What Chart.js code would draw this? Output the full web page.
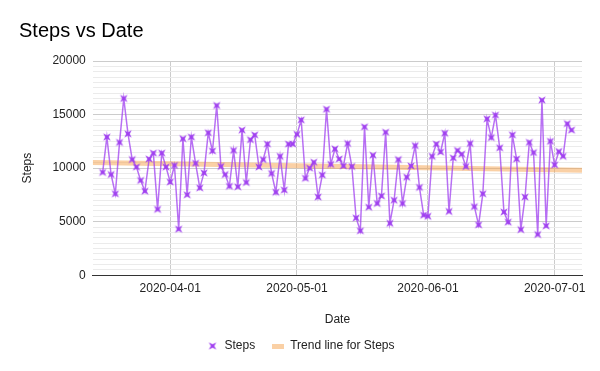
<!DOCTYPE html>
<html><head><meta charset="utf-8">
<script src="https://cdn.jsdelivr.net/npm/chart.js@4/dist/chart.umd.min.js"></script>
<style>html,body{margin:0;padding:0;background:#fff}#wrap{width:600px;height:371px}</style>
</head><body><div id="wrap"><canvas id="c" width="600" height="371"></canvas></div>
<script>
const chartTitle = 'Steps vs Date';
const seriesName = 'Steps';
const trendName = 'Trend line for Steps';
const firstDate = '2020-03-16';
const steps = [
  9600,12900,9400,7600,12400,16500,13200,10800,10100,8850,7850,10850,11400,6150,11400,10100,
  8700,10250,4300,12750,7500,12900,10450,8150,9550,13300,11600,15850,10150,9400,8300,11650,8250,13550,8650,12650,13100,10100,10800,12250,9500,7750,11100,7950,12250,12250,
  13150,14500,9050,10000,10550,7300,9350,15500,10350,11800,10850,10200,12300,10150,5350,4150,13850,6350,11200,6700,7400,13350,4850,7000,10800,6700,9150,10200,12100,8200,5600,
  5500,11100,12250,11500,13250,5950,10950,11650,11300,10150,12300,6400,4700,7600,14600,12850,14950,11900,5900,4950,13100,10850,4250,7300,12400,11450,3800,16350,4600,12500,
  10300,11550,11100,14150,13550
];
const xTickLabels = ['2020-04-01','2020-05-01','2020-06-01','2020-07-01'];
const yMajorTicks = [0,5000,10000,15000,20000];

const DAY = 86400000;
function toUTC(s){const p=s.split('-').map(Number);return Date.UTC(p[0],p[1]-1,p[2]);}
const refDay = toUTC(xTickLabels[0]);
const dayOf = s => Math.round((toUTC(s)-refDay)/DAY);
const startIdx = dayOf(firstDate);
const points = steps.map((v,i)=>({x:startIdx+i, y:v}));
const tickDays = xTickLabels.map(dayOf);
function fmtDay(d){const t=new Date(refDay+d*DAY);return t.toISOString().slice(0,10);}

const xMin = -18.34, xMax = 97.48;
// least-squares trend line from the series
const n = points.length;
const mx = points.reduce((a,p)=>a+p.x,0)/n, my = points.reduce((a,p)=>a+p.y,0)/n;
let sxy=0,sxx=0; points.forEach(p=>{sxy+=(p.x-mx)*(p.y-my);sxx+=(p.x-mx)*(p.x-mx);});
const slope = sxy/sxx, icpt = my - slope*mx;
const trend = [{x:xMin,y:icpt+slope*xMin},{x:xMax,y:icpt+slope*xMax}];

const purple = '#a040f0';
const trendColor = 'rgba(245,162,75,0.5)';
function makeStar(size,color){
  const c=document.createElement('canvas');c.width=c.height=size;
  const g=c.getContext('2d');const r=size/2;
  g.translate(r,r);g.beginPath();
  for(let i=0;i<8;i++){const a=i*Math.PI/4;const rad=(i%2===1)?r-0.3:r*0.32;
    const px=Math.cos(a)*rad,py=Math.sin(a)*rad; if(i===0)g.moveTo(px,py);else g.lineTo(px,py);}
  g.closePath();g.fillStyle=color;g.fill();
  g.strokeStyle='rgba(160,64,240,0.3)';g.lineWidth=1;g.stroke();
  return c;
}
function makeSwatch(w,h,color){
  const c=document.createElement('canvas');c.width=w;c.height=h;
  const g=c.getContext('2d');g.fillStyle=color;g.fillRect(0,0,w,h);return c;
}
const star = makeStar(10,purple);
const swatch = makeSwatch(12,5,trendColor);

Chart.defaults.font.family = "'Liberation Sans', Arial, sans-serif";
Chart.defaults.font.size = 12;
Chart.defaults.color = '#222';

new Chart(document.getElementById('c'),{
  type:'line',
  data:{datasets:[
    {label:seriesName,data:points,borderColor:'rgba(160,64,240,0.75)',borderWidth:1.5,
     pointStyle:star,pointRadius:5,pointHoverRadius:5,tension:0,order:0},
    {label:trendName,data:trend,borderColor:trendColor,borderWidth:5,pointRadius:0,tension:0,order:1}
  ]},
  options:{
    responsive:false,animation:false,devicePixelRatio:1,
    layout:{padding:{left:19,right:18,top:0,bottom:9}},
    plugins:{
      title:{display:true,text:chartTitle,align:'start',color:'#000',
        font:{size:20,weight:'normal'},padding:{top:19,bottom:18}},
      legend:{position:'bottom',
        labels:{usePointStyle:true,boxWidth:12,padding:17,color:'#222',
          generateLabels:()=>[
            {text:seriesName,pointStyle:star,datasetIndex:0,fillStyle:purple,strokeStyle:purple,lineWidth:0,fontColor:'#222'},
            {text:trendName,pointStyle:swatch,datasetIndex:1,fillStyle:trendColor,strokeStyle:trendColor,lineWidth:0,fontColor:'#222'}
          ]}},
      tooltip:{enabled:false}
    },
    scales:{
      x:{type:'linear',min:xMin,max:xMax,
        afterBuildTicks:s=>{s.ticks=tickDays.map(v=>({value:v}));},
        ticks:{autoSkip:false,maxRotation:0,padding:6,color:'#222',
          callback:v=>{const i=tickDays.indexOf(v);return i>=0?xTickLabels[i]:fmtDay(v);}},
        grid:{color:'#cccccc',drawTicks:false},
        border:{color:'#333',width:1},
        title:{display:true,text:'Date',color:'#222',padding:{top:11,bottom:-4}}},
      y:{min:0,max:20000,
        ticks:{stepSize:500,autoSkip:false,padding:7,color:'#222',
          callback:v=>yMajorTicks.includes(v)?String(v):''},
        grid:{drawTicks:false,color:c=>{const v=c.tick.value;if(v===0)return '#333';return yMajorTicks.includes(v)?'#cccccc':'#ebebeb';}},
        border:{display:false},
        title:{display:true,text:'Steps',color:'#222',padding:{top:1,bottom:11}}}
    }
  }
});
</script></body></html>
